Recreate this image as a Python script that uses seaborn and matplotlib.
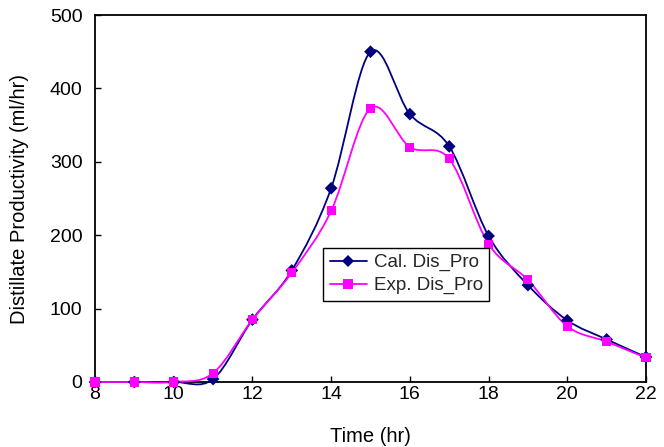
import numpy as np
import pandas as pd
import seaborn as sns
import matplotlib
matplotlib.use("Agg")
import matplotlib.pyplot as plt
from matplotlib.path import Path
from matplotlib.patches import PathPatch
from matplotlib.lines import Line2D

# Hourly distillate productivity (ml/hr)
time_hr = [8, 9, 10, 11, 12, 13, 14, 15, 16, 17, 18, 19, 20, 21, 22]
cal_dis_pro = [0, 0, 0, 4, 85, 152, 264, 450, 365, 321, 199, 132, 84, 58, 34]
exp_dis_pro = [0, 0, 0, 12, 85, 149, 233, 373, 320, 304, 188, 139, 76, 55, 33]
series_names = ["Cal. Dis_Pro", "Exp. Dis_Pro"]
x_ticks = [8, 10, 12, 14, 16, 18, 20, 22]
y_ticks = [0, 100, 200, 300, 400, 500]

NAVY = "#000080"
MAGENTA = "#FF00FF"

sns.set_theme(style="white")
plt.rcParams["font.family"] = ["Liberation Sans", "DejaVu Sans"]

df = pd.DataFrame({
    "Time (hr)": time_hr * 2,
    "value": cal_dis_pro + exp_dis_pro,
    "series": [series_names[0]] * len(time_hr) + [series_names[1]] * len(time_hr),
})

fig = plt.figure(figsize=(6.64, 4.47), dpi=100)
ax = fig.add_axes([95 / 664, 1 - 382 / 447, 551 / 664, 367 / 447])


def smooth_path(xs, ys):
    """Cubic Bezier path through the points (Catmull-Rom style tangents)."""
    pts = np.column_stack([xs, ys]).astype(float)
    n = len(pts)
    verts = [pts[0]]
    codes = [Path.MOVETO]
    for i in range(n - 1):
        p0 = pts[i - 1] if i > 0 else pts[i]
        p1 = pts[i]
        p2 = pts[i + 1]
        p3 = pts[i + 2] if i + 2 < n else pts[i + 1]
        c1 = p1 + (p2 - p0) / 6.0
        c2 = p2 - (p3 - p1) / 6.0
        verts += [c1, c2, p2]
        codes += [Path.CURVE4] * 3
    return Path(verts, codes)


for ys, color in [(cal_dis_pro, NAVY), (exp_dis_pro, MAGENTA)]:
    ax.add_patch(PathPatch(smooth_path(time_hr, ys), facecolor="none",
                           edgecolor=color, lw=1.3, zorder=2, clip_on=False))

sns.scatterplot(data=df, x="Time (hr)", y="value", hue="series", style="series",
                markers={series_names[0]: "D", series_names[1]: "s"},
                palette={series_names[0]: NAVY, series_names[1]: MAGENTA},
                s=42, edgecolor="none", linewidth=0, legend=False, ax=ax,
                zorder=3, clip_on=False)

ax.set_xlim(8, 22)
ax.set_ylim(0, 500)
ax.set_xticks(x_ticks)
ax.set_yticks(y_ticks)
ax.tick_params(axis="both", direction="in", length=4.5, width=1, color="black",
               labelsize=14, labelcolor="black", left=True, bottom=True,
               right=False, top=False)
ax.tick_params(axis="y", pad=9)
ax.tick_params(axis="x", pad=3)
for sp in ax.spines.values():
    sp.set_visible(True)
    sp.set_color("black")
    sp.set_linewidth(1.3)
    sp.set_zorder(1)

ax.set_xlabel("Time (hr)", fontsize=14.5, color="black", labelpad=17)
ax.set_ylabel("Distillate Productivity (ml/hr)", fontsize=14.5, color="black", labelpad=15)

handles = [
    Line2D([], [], color=NAVY, lw=1.3, marker="D", markersize=6.5, markeredgewidth=0),
    Line2D([], [], color=MAGENTA, lw=1.3, marker="s", markersize=6.5, markeredgewidth=0),
]
leg = ax.legend(handles, series_names, loc="lower left",
                bbox_to_anchor=(0.414, 0.221), fontsize=13.5, frameon=True,
                fancybox=False, shadow=False, framealpha=1, edgecolor="black",
                borderpad=0.35, handlelength=2.0, handletextpad=0.35,
                labelspacing=0.3, borderaxespad=0)
leg.get_frame().set_linewidth(1.0)
leg.set_zorder(5)

fig.savefig("out.png", dpi=100)
